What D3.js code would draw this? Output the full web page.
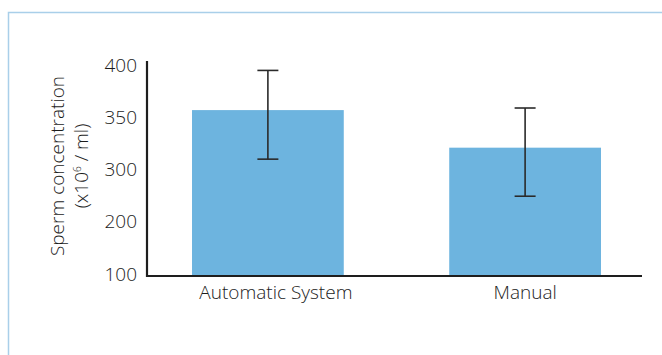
<!DOCTYPE html>
<html>
<head>
<meta charset="utf-8">
<script src="https://cdn.jsdelivr.net/npm/d3@7"></script>
<style>
  html, body { margin: 0; padding: 0; background: #fff; }
  svg { display: block; }
  text { font-family: "Open Sans", Lato, sans-serif; font-weight: 300; fill: #1c1c1c; }
</style>
</head>
<body>
<svg id="chart" width="662" height="355"></svg>
<script>
// Sperm concentration by counting method (mean with error range)
const categories = ["Automatic System", "Manual"];
const means = [357, 321];
const upper = [395, 359];
const lower = [310, 249];
const tickValues = [100, 200, 300, 350, 400];

const svg = d3.select("#chart");

// panel frame (top and left rule)
svg.append("path")
  .attr("d", "M8.5,355 V12.5 H662")
  .attr("fill", "none")
  .attr("stroke", "#a9cfe9")
  .attr("stroke-width", 1.5);

const plotLeft = 147, plotBottom = 275, plotTop = 61, plotRight = 642;
const step = 52.2;
const font = "'Open Sans', Lato, sans-serif";

// axis labels are evenly spaced, so the scale is piecewise over the tick values
const y = d3.scaleLinear()
  .domain(tickValues)
  .range(tickValues.map((d, i) => plotBottom - 1 - i * step));

const x = d3.scaleBand()
  .domain(categories)
  .range([plotLeft, 646])
  .paddingInner(0.41)
  .paddingOuter(0.175);

// bars
svg.selectAll("rect.bar")
  .data(categories)
  .join("rect")
  .attr("class", "bar")
  .attr("x", d => x(d))
  .attr("width", x.bandwidth())
  .attr("y", (d, i) => y(means[i]))
  .attr("height", (d, i) => plotBottom - y(means[i]))
  .attr("fill", "#6db4df");

// error bars
const eb = svg.selectAll("g.err")
  .data(categories)
  .join("g")
  .attr("class", "err")
  .attr("stroke", "#2a2a2a")
  .attr("stroke-width", 1.6);
eb.append("line")
  .attr("x1", d => x(d) + x.bandwidth() / 2)
  .attr("x2", d => x(d) + x.bandwidth() / 2)
  .attr("y1", (d, i) => y(upper[i]))
  .attr("y2", (d, i) => y(lower[i]));
[upper, lower].forEach(arr => {
  eb.append("line")
    .attr("x1", d => x(d) + x.bandwidth() / 2 - 10.5)
    .attr("x2", d => x(d) + x.bandwidth() / 2 + 10.5)
    .attr("y1", (d, i) => y(arr[i]))
    .attr("y2", (d, i) => y(arr[i]));
});

// y axis
const yAxis = svg.append("g")
  .attr("transform", `translate(${plotLeft},0)`)
  .call(d3.axisLeft(y).tickValues(tickValues).tickSize(0).tickPadding(10).tickFormat(d3.format("d")));
yAxis.select(".domain").remove();
yAxis.selectAll("text")
  .style("font-size", "19px")
  .style("font-family", font)
  .style("font-weight", 300)
  .attr("fill", "#1c1c1c");

// x axis labels
const xAxis = svg.append("g")
  .attr("transform", `translate(0,${plotBottom})`)
  .call(d3.axisBottom(x).tickSize(0).tickPadding(11));
xAxis.select(".domain").remove();
xAxis.selectAll("text")
  .style("font-size", "19px")
  .style("font-family", font)
  .style("font-weight", 300)
  .attr("fill", "#1c1c1c")
  .attr("dx", (d, i) => (i === 0 ? 8 : 0));

// axis lines
svg.append("path")
  .attr("d", `M${plotLeft},${plotTop} V${plotBottom + 1} H${plotRight}`)
  .attr("fill", "none")
  .attr("stroke", "#1e1e1e")
  .attr("stroke-width", 2.2);

// y axis title
const title = svg.append("text")
  .attr("transform", "translate(0,166) rotate(-90)")
  .attr("text-anchor", "middle")
  .style("font-size", "19px");
title.append("tspan").attr("x", 0).attr("y", 64).text("Sperm concentration");
const t2 = title.append("tspan").attr("x", 0).attr("y", 88);
t2.append("tspan").text("(x10");
t2.append("tspan").attr("dy", -7).style("font-size", "10px").text("6");
t2.append("tspan").attr("dy", 7).text(" / ml)");
</script>
</body>
</html>
